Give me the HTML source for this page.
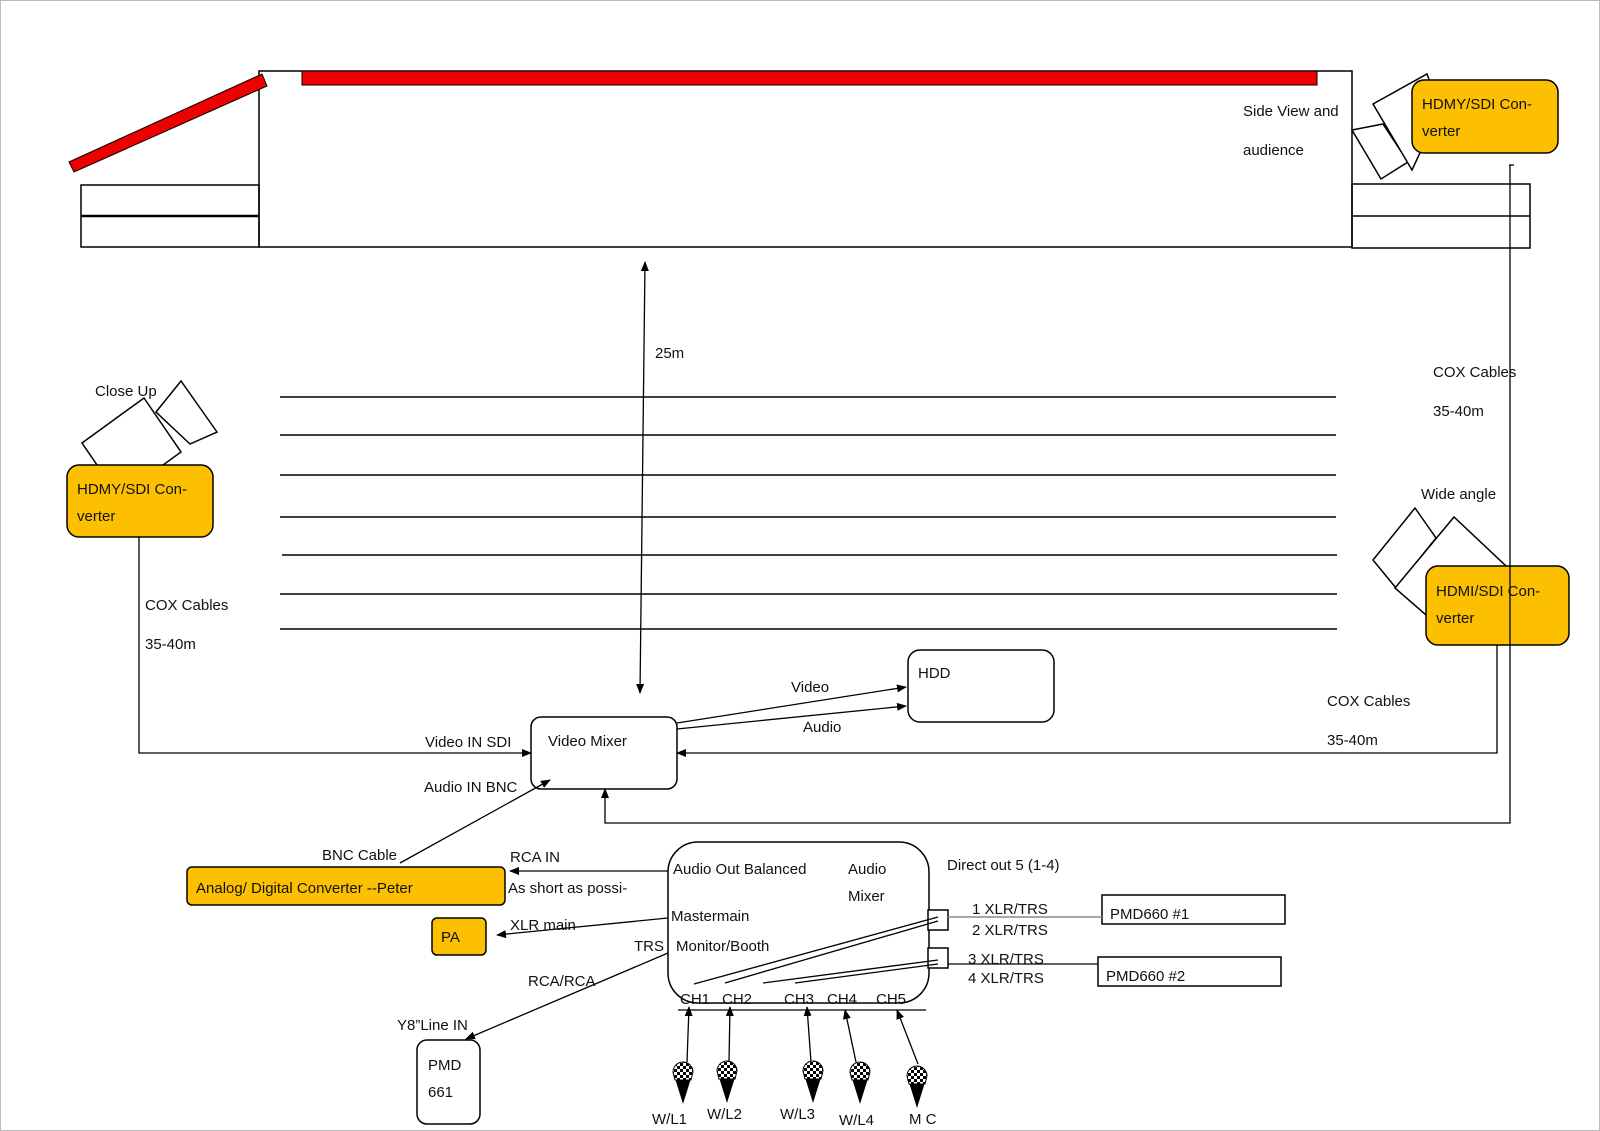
<!DOCTYPE html>
<html><head><meta charset="utf-8"><style>
html,body{margin:0;padding:0;background:#fff;}
svg{display:block;}
text{font-family:"Liberation Sans",sans-serif;font-size:15px;fill:#111;}
</style></head><body>
<svg width="1600" height="1131" viewBox="0 0 1600 1131" xmlns="http://www.w3.org/2000/svg">
<defs>
<marker id="a" markerWidth="10" markerHeight="8" refX="9" refY="4" orient="auto-start-reverse" markerUnits="userSpaceOnUse"><path d="M0,0 L10,4 L0,8 z" fill="#000"/></marker>
<pattern id="chk" width="6" height="6" patternUnits="userSpaceOnUse"><rect width="6" height="6" fill="#fff"/><rect width="3" height="3" fill="#000"/><rect x="3" y="3" width="3" height="3" fill="#000"/></pattern>
<g id="mic"><path d="M-10,0 A10,10 0 0 1 10,0 L0,32 Z" fill="#000"/><path d="M-10,0 A10,10 0 0 1 10,0 L8,8 L-8,8 Z" fill="url(#chk)" stroke="#000"/></g>
</defs>
<rect x="0.5" y="0.5" width="1599" height="1130" fill="none" stroke="#bbb"/>
<g fill="none" stroke="#000" stroke-width="1.5">
<rect x="259" y="71" width="1093" height="176"/>
<rect x="81" y="185" width="178" height="62"/>
<line x1="81" y1="216" x2="259" y2="216" stroke-width="2.5"/>
<rect x="1352" y="184" width="178" height="64"/>
<line x1="1352" y1="216" x2="1530" y2="216"/>
<line x1="280" y1="397" x2="1336" y2="397"/>
<line x1="280" y1="435" x2="1336" y2="435"/>
<line x1="280" y1="475" x2="1336" y2="475"/>
<line x1="280" y1="517" x2="1336" y2="517"/>
<line x1="282" y1="555" x2="1337" y2="555"/>
<line x1="280" y1="594" x2="1337" y2="594"/>
<line x1="280" y1="629" x2="1337" y2="629"/>
<polygon points="82,443 144,398 181,452 119,497" fill="#fff"/>
<polygon points="156,412 181,381 217,432 190,444" fill="#fff"/>
<polygon points="1373,560 1415,508 1436,538 1396,588" fill="#fff"/>
<polygon points="1395,588 1454,517 1506,566 1449,635" fill="#fff"/>
<polygon points="1352,130 1383,124 1408,162 1381,179" fill="#fff"/>
<polygon points="1373,104 1427,74 1440,110 1412,170" fill="#fff"/>
</g>
<rect x="302" y="71" width="1015" height="14" fill="#e00" stroke="#000"/>
<polygon points="69,162 262,74 267,86 74,172" fill="#e00" stroke="#000"/>
<g stroke="#000" stroke-width="1.5" fill="#fdc000">
<rect x="1412" y="80" width="146" height="73" rx="12"/>
<rect x="67" y="465" width="146" height="72" rx="12"/>
<rect x="1426" y="566" width="143" height="79" rx="12"/>
<rect x="187" y="867" width="318" height="38" rx="5"/>
<rect x="432" y="918" width="54" height="37" rx="5"/>
</g>
<g fill="#fff" stroke="#000" stroke-width="1.5">
<rect x="531" y="717" width="146" height="72" rx="10"/>
<rect x="908" y="650" width="146" height="72" rx="12"/>
<rect x="668" y="842" width="261" height="161" rx="30"/>
<rect x="1102" y="895" width="183" height="29"/>
<rect x="1098" y="957" width="183" height="29"/>
<rect x="417" y="1040" width="63" height="84" rx="10"/>
<rect x="928" y="910" width="20" height="20"/>
<rect x="928" y="948" width="20" height="20"/>
</g>
<g fill="none" stroke="#000" stroke-width="1.3">
<line x1="645" y1="262" x2="640" y2="693" marker-start="url(#a)" marker-end="url(#a)"/>
<polyline points="139,537 139,753 531,753" marker-end="url(#a)"/>
<polyline points="1497,645 1497,753 677,753" marker-end="url(#a)"/>
<polyline points="1510,165 1510,823 605,823 605,789" marker-end="url(#a)"/>
<line x1="1509" y1="165" x2="1514" y2="165"/>
<line x1="677" y1="723" x2="906" y2="687" marker-end="url(#a)"/>
<line x1="677" y1="729" x2="906" y2="706" marker-end="url(#a)"/>
<line x1="400" y1="863" x2="550" y2="780" marker-end="url(#a)"/>
<line x1="668" y1="871" x2="510" y2="871" marker-end="url(#a)"/>
<line x1="668" y1="918" x2="497" y2="935" marker-end="url(#a)"/>
<line x1="668" y1="953" x2="466" y2="1039" marker-end="url(#a)"/>
<line x1="948" y1="917" x2="1102" y2="917" stroke="#888" stroke-width="1.5"/>
<line x1="948" y1="964" x2="1098" y2="964"/>
<line x1="694" y1="984" x2="938" y2="917"/>
<line x1="725" y1="983" x2="938" y2="921"/>
<line x1="763" y1="983" x2="938" y2="960"/>
<line x1="795" y1="983" x2="938" y2="964"/>
<line x1="678" y1="1010" x2="926" y2="1010"/>
<line x1="687" y1="1062" x2="689" y2="1007" marker-end="url(#a)"/>
<line x1="729" y1="1062" x2="730" y2="1007" marker-end="url(#a)"/>
<line x1="811" y1="1062" x2="807" y2="1007" marker-end="url(#a)"/>
<line x1="856" y1="1062" x2="845" y2="1010" marker-end="url(#a)"/>
<line x1="918" y1="1064" x2="897" y2="1010" marker-end="url(#a)"/>
</g>
<use href="#mic" x="683" y="1072"/>
<use href="#mic" x="727" y="1071"/>
<use href="#mic" x="813" y="1071"/>
<use href="#mic" x="860" y="1072"/>
<use href="#mic" x="917" y="1076"/>
<text x="1243" y="116">Side View and</text>
<text x="1243" y="155">audience</text>
<text x="1422" y="109">HDMY/SDI Con-</text>
<text x="1422" y="136">verter</text>
<text x="77" y="494">HDMY/SDI Con-</text>
<text x="77" y="521">verter</text>
<text x="1436" y="596">HDMI/SDI Con-</text>
<text x="1436" y="623">verter</text>
<text x="95" y="396">Close Up</text>
<text x="655" y="358">25m</text>
<text x="1433" y="377">COX Cables</text>
<text x="1433" y="416">35-40m</text>
<text x="1421" y="499">Wide angle</text>
<text x="145" y="610">COX Cables</text>
<text x="145" y="649">35-40m</text>
<text x="1327" y="706">COX Cables</text>
<text x="1327" y="745">35-40m</text>
<text x="918" y="678">HDD</text>
<text x="791" y="692">Video</text>
<text x="803" y="732">Audio</text>
<text x="548" y="746">Video Mixer</text>
<text x="425" y="747">Video IN SDI</text>
<text x="424" y="792">Audio IN BNC</text>
<text x="322" y="860">BNC Cable</text>
<text x="510" y="862">RCA IN</text>
<text x="508" y="893">As short as possi-</text>
<text x="196" y="893">Analog/ Digital Converter --Peter</text>
<text x="441" y="942">PA</text>
<text x="510" y="930">XLR main</text>
<text x="634" y="951">TRS</text>
<text x="528" y="986">RCA/RCA</text>
<text x="397" y="1030">Y8”Line IN</text>
<text x="428" y="1070">PMD</text>
<text x="428" y="1097">661</text>
<text x="673" y="874">Audio Out Balanced</text>
<text x="848" y="874">Audio</text>
<text x="848" y="901">Mixer</text>
<text x="671" y="921">Mastermain</text>
<text x="676" y="951">Monitor/Booth</text>
<text x="947" y="870">Direct out 5 (1-4)</text>
<text x="972" y="914">1 XLR/TRS</text>
<text x="972" y="935">2 XLR/TRS</text>
<text x="968" y="964">3 XLR/TRS</text>
<text x="968" y="983">4 XLR/TRS</text>
<text x="1110" y="919">PMD660 #1</text>
<text x="1106" y="981">PMD660 #2</text>
<text x="680" y="1004">CH1</text>
<text x="722" y="1004">CH2</text>
<text x="784" y="1004">CH3</text>
<text x="827" y="1004">CH4</text>
<text x="876" y="1004">CH5</text>
<text x="652" y="1124">W/L1</text>
<text x="707" y="1119">W/L2</text>
<text x="780" y="1119">W/L3</text>
<text x="839" y="1125">W/L4</text>
<text x="909" y="1124">M C</text>
</svg>
</body></html>
